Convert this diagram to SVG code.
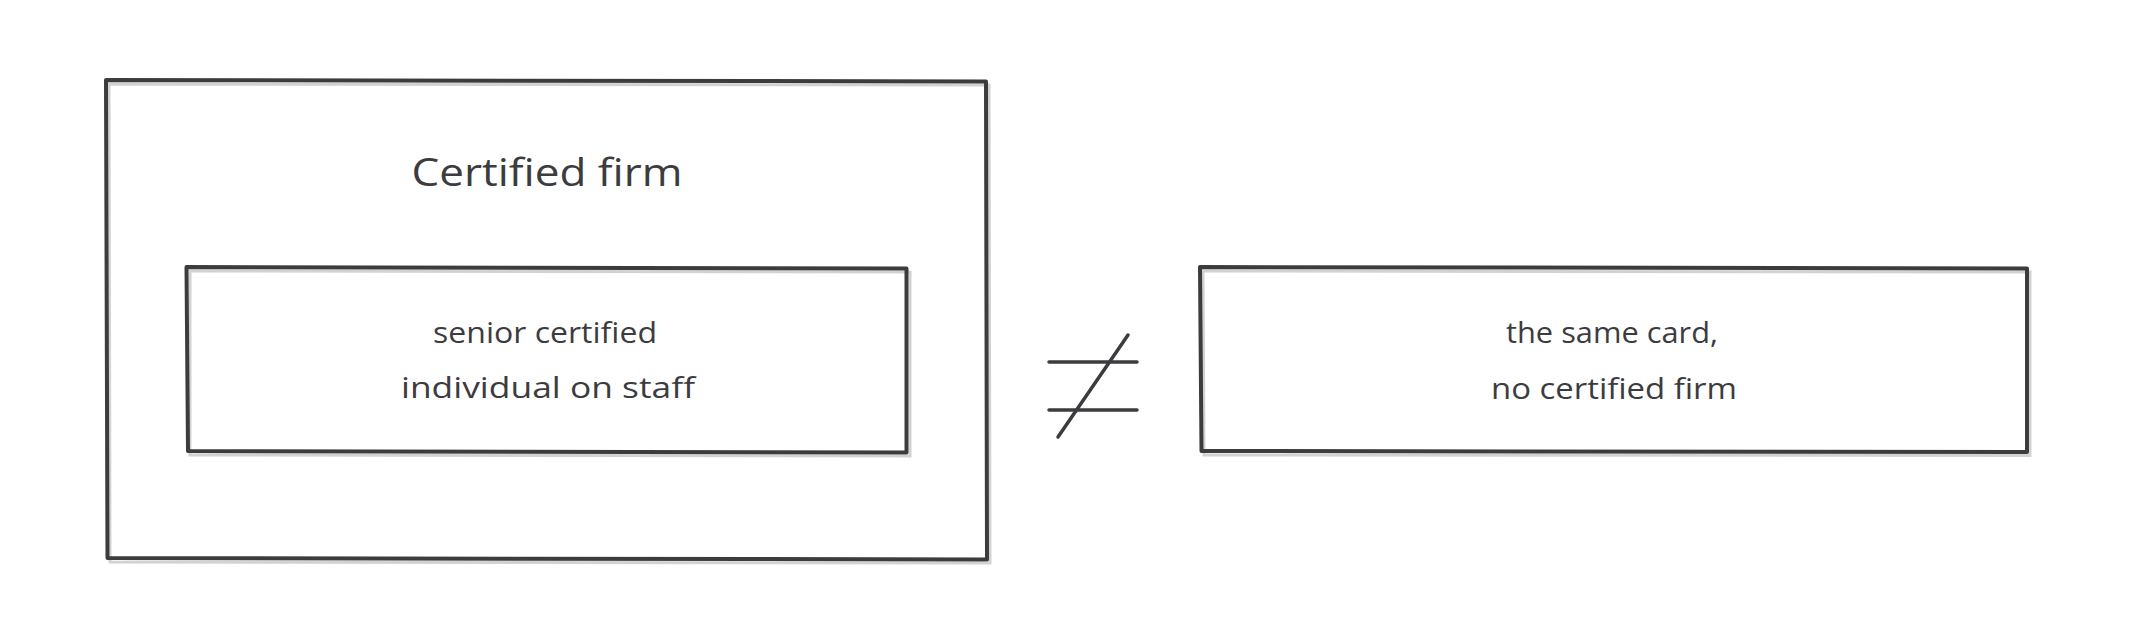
<svg xmlns="http://www.w3.org/2000/svg" width="2133" height="640" viewBox="0 0 2133 640">
  <style>
    .box { fill: none; stroke: #3c3c3f; stroke-width: 4; stroke-linejoin: round; }
    .shadow { fill: none; stroke: #d2d2d2; stroke-width: 3; }
    .sym { stroke: #3c3c3f; stroke-width: 3.5; stroke-linecap: round; fill: none; }
    .lbl { font-family: "Open Sans", "Liberation Sans", sans-serif; fill: #3c3c3f; text-anchor: middle; }
    .title { font-size: 38px; }
    .body { font-size: 30px; }
  </style>
  <rect width="2133" height="640" fill="#ffffff"/>

  <g id="certified-firm">
    <path class="shadow" d="M109,84 L989,85 L990,563 L110,562 Z"/>
    <path class="box" d="M106,80 L986,81.5 L987,559.5 L107.5,558 Z"/>
    <text class="lbl title" x="547" y="186" textLength="271" lengthAdjust="spacingAndGlyphs">Certified firm</text>
  </g>

  <g id="senior-individual">
    <path class="shadow" d="M190,271 L910,272 L910,456 L190,455 Z"/>
    <path class="box" d="M186.5,267 L906.5,268.5 L906.5,452.5 L188,451 Z"/>
    <text class="lbl body" x="545" y="343" textLength="224" lengthAdjust="spacingAndGlyphs">senior certified</text>
    <text class="lbl body" x="548" y="398" textLength="294" lengthAdjust="spacingAndGlyphs">individual on staff</text>
  </g>

  <g id="connectors">
    <line class="sym" x1="1049" y1="362" x2="1137" y2="362"/>
    <line class="sym" x1="1049" y1="410" x2="1137" y2="410"/>
    <line class="sym" x1="1128" y1="335" x2="1058" y2="437"/>
  </g>

  <g id="same-card">
    <path class="shadow" d="M1203,271 L2030,272 L2030,455.5 L1204,455 Z"/>
    <path class="box" d="M1200,267 L2027,268.5 L2027,452 L1201.5,451 Z"/>
    <text class="lbl body" x="1612" y="343" textLength="212" lengthAdjust="spacingAndGlyphs">the same card,</text>
    <text class="lbl body" x="1614" y="399" textLength="246" lengthAdjust="spacingAndGlyphs">no certified firm</text>
  </g>
</svg>
